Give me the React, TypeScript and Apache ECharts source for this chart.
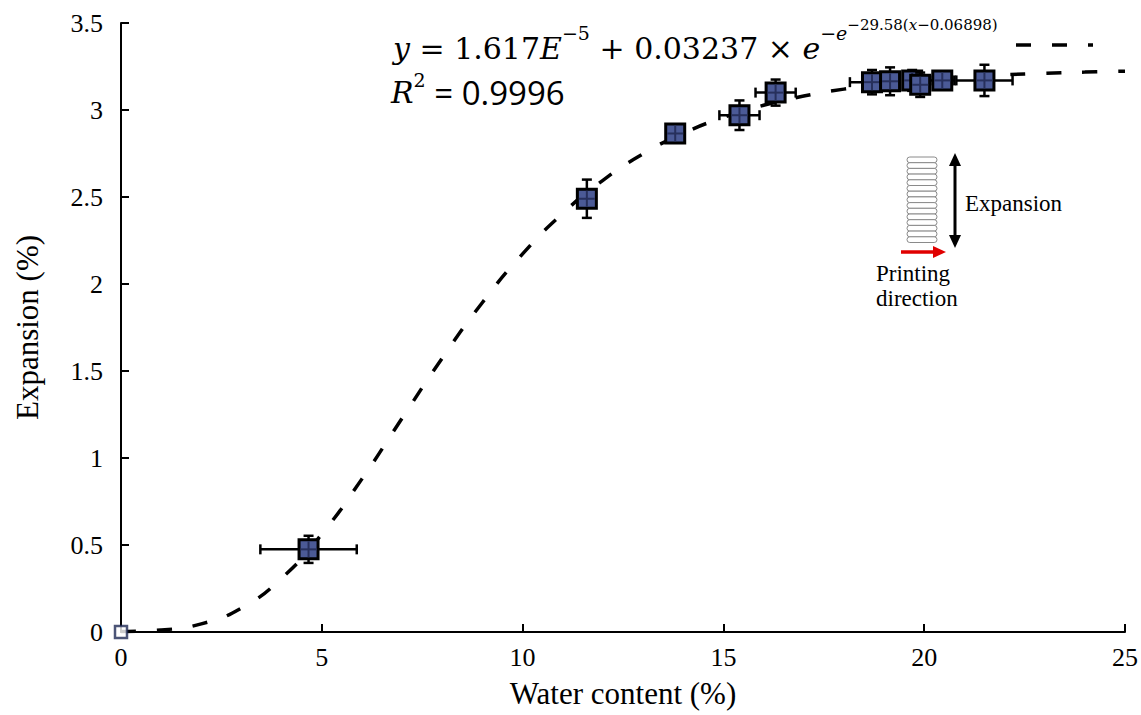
import React, { useEffect, useRef } from "react";
import * as echarts from "echarts";

// Measured points: water content (%), expansion (%), and their error half-widths
const waterContent = [4.67, 11.6, 13.8, 15.4, 16.3, 18.7, 19.15, 19.7, 19.9, 20.45, 21.5];
const expansion = [0.475, 2.49, 2.865, 2.97, 3.1, 3.16, 3.165, 3.17, 3.145, 3.17, 3.17];
const waterError = [1.2, 0.15, 0.05, 0.5, 0.5, 0.55, 0.2, 0.2, 0.2, 0.3, 0.7];
const expansionError = [0.078, 0.11, 0.02, 0.085, 0.075, 0.07, 0.08, 0.06, 0.07, 0.05, 0.09];

// Origin (hollow) point
const originPoint = [0, 0];

// Fitted curve
const fitX = [0, 1, 2, 3, 4, 5, 6, 7, 8, 9, 10, 11, 12, 13, 14, 15, 16, 17, 18, 19, 20, 21, 22, 23, 24, 25];
const fitY = [0.003, 0.012, 0.047, 0.138, 0.309, 0.563, 0.88, 1.229, 1.575, 1.894, 2.173, 2.406, 2.596, 2.748, 2.866, 2.957, 3.027, 3.08, 3.12, 3.15, 3.172, 3.189, 3.202, 3.211, 3.218, 3.223];

const xLabel = "Water content (%)";
const yLabel = "Expansion (%)";

const SERIF = "Liberation Serif";
const MATH = "DejaVu Serif";
const SANS = "Open Sans";

type Piece = { t: string; it?: boolean; sz: number; lvl: number; fam?: string };

const eqLine1: Piece[] = [
  { t: "y", it: true, sz: 30, lvl: 0 },
  { t: " = 1.617", sz: 30, lvl: 0 },
  { t: "E", it: true, sz: 30, lvl: 0 },
  { t: "−5", sz: 19, lvl: 1 },
  { t: " + 0.03237 × ", sz: 30, lvl: 0 },
  { t: "e", it: true, sz: 30, lvl: 0 },
  { t: "−", sz: 19, lvl: 1 },
  { t: "e", it: true, sz: 19, lvl: 1 },
  { t: "−29.58(", sz: 15, lvl: 2 },
  { t: "x", it: true, sz: 15, lvl: 2 },
  { t: "−0.06898)", sz: 15, lvl: 2 },
];
const eqLine2: Piece[] = [
  { t: "R", it: true, sz: 30, lvl: 0 },
  { t: "2", sz: 19, lvl: 1 },
  { t: " = 0.9996", sz: 33, lvl: 0, fam: SANS },
];

function measure(p: Piece): number {
  const c = document.createElement("canvas").getContext("2d")!;
  c.font = `${p.it ? "italic " : ""}${p.sz}px "${p.fam || MATH}"`;
  return c.measureText(p.t).width;
}

function layoutLine(pieces: Piece[], x0: number, centers: number[]): any[] {
  let x = x0;
  const out: any[] = [];
  for (const p of pieces) {
    out.push({
      type: "text",
      x,
      y: centers[p.lvl],
      z: 10,
      style: {
        text: p.t,
        fontFamily: p.fam || MATH,
        fontStyle: p.it ? "italic" : "normal",
        fontSize: p.sz,
        fill: "#000",
        align: "left",
        verticalAlign: "middle",
      },
    });
    x += measure(p);
  }
  return out;
}

export default function App() {
  const ref = useRef<HTMLDivElement>(null);

  useEffect(() => {
    const chart = echarts.init(ref.current!, null, { renderer: "svg" });

    const coils: any[] = [];
    const coilCount = 15;
    const coilTop = 157;
    const coilH = 5.7;
    for (let i = 0; i < coilCount; i++) {
      coils.push({
        type: "rect",
        shape: { x: 907, y: coilTop + i * coilH, width: 30, height: coilH, r: 2.8 },
        style: { fill: "#fff", stroke: "#8a8a8a", lineWidth: 1 },
      });
    }

    const option: any = {
      animation: false,
      backgroundColor: "#fff",
      textStyle: { fontFamily: SERIF },
      grid: { left: 121, right: 15, top: 23, bottom: 83, containLabel: false },
      xAxis: {
        type: "value",
        min: 0,
        max: 25,
        interval: 5,
        name: xLabel,
        nameLocation: "middle",
        nameGap: 46,
        nameTextStyle: { fontFamily: SERIF, fontSize: 31, color: "#000" },
        axisLine: { show: true, onZero: false, lineStyle: { color: "#000", width: 2 } },
        axisTick: { show: true, inside: true, length: 8, lineStyle: { color: "#000", width: 2 } },
        splitLine: { show: false },
        axisLabel: { fontFamily: SERIF, fontSize: 26, color: "#000", margin: 12 },
      },
      yAxis: {
        type: "value",
        min: 0,
        max: 3.5,
        interval: 0.5,
        name: yLabel,
        nameLocation: "middle",
        nameGap: 78,
        nameTextStyle: { fontFamily: SERIF, fontSize: 31, color: "#000" },
        axisLine: { show: true, onZero: false, lineStyle: { color: "#000", width: 2 } },
        axisTick: { show: true, inside: true, length: 8, lineStyle: { color: "#000", width: 2 } },
        splitLine: { show: false },
        axisLabel: { fontFamily: SERIF, fontSize: 26, color: "#000", margin: 18 },
      },
      series: [
        {
          type: "line",
          data: fitX.map((x, i) => [x, fitY[i]]),
          smooth: true,
          showSymbol: false,
          symbol: "none",
          lineStyle: { color: "#000", width: 3.5, type: [15, 21] },
          z: 2,
          silent: true,
        },
        {
          type: "custom",
          z: 5,
          data: waterContent.map((x, i) => [x, expansion[i], waterError[i], expansionError[i]]),
          encode: { x: 0, y: 1 },
          renderItem: (params: any, api: any) => {
            const x = api.value(0);
            const y = api.value(1);
            const xe = api.value(2);
            const ye = api.value(3);
            const c = api.coord([x, y]);
            const l = api.coord([x - xe, y]);
            const r = api.coord([x + xe, y]);
            const t = api.coord([x, y + ye]);
            const b = api.coord([x, y - ye]);
            const cap = 5;
            const s = 9.5;
            const ls = { stroke: "#000", lineWidth: 2.5 };
            return {
              type: "group",
              children: [
                { type: "line", shape: { x1: l[0], y1: c[1], x2: r[0], y2: c[1] }, style: ls },
                { type: "line", shape: { x1: l[0], y1: c[1] - cap, x2: l[0], y2: c[1] + cap }, style: ls },
                { type: "line", shape: { x1: r[0], y1: c[1] - cap, x2: r[0], y2: c[1] + cap }, style: ls },
                { type: "line", shape: { x1: c[0], y1: t[1], x2: c[0], y2: b[1] }, style: ls },
                { type: "line", shape: { x1: c[0] - cap, y1: t[1], x2: c[0] + cap, y2: t[1] }, style: ls },
                { type: "line", shape: { x1: c[0] - cap, y1: b[1], x2: c[0] + cap, y2: b[1] }, style: ls },
                {
                  type: "rect",
                  shape: { x: c[0] - s, y: c[1] - s, width: 2 * s, height: 2 * s },
                  style: { fill: "#4b5a96", stroke: "#000", lineWidth: 3 },
                },
                { type: "line", shape: { x1: c[0], y1: c[1] - s + 1.5, x2: c[0], y2: c[1] + s - 1.5 }, style: { stroke: "#27305c", lineWidth: 2 } },
                { type: "line", shape: { x1: c[0] - s + 1.5, y1: c[1], x2: c[0] + s - 1.5, y2: c[1] }, style: { stroke: "#27305c", lineWidth: 2 } },
              ],
            };
          },
        },
        {
          type: "scatter",
          data: [originPoint],
          symbol: "rect",
          symbolSize: 12,
          itemStyle: { color: "#fff", borderColor: "#1f2a55", borderWidth: 2.5 },
          z: 6,
        },
      ],
      graphic: [
        ...layoutLine(eqLine1, 393, [48, 33, 25]),
        ...layoutLine(eqLine2, 391, [92, 80, 92]),
        {
          type: "line",
          z: 10,
          shape: { x1: 1016, y1: 45, x2: 1093, y2: 45 },
          style: { stroke: "#000", lineWidth: 3.5, lineDash: [15, 21] },
        },
        ...coils,
        {
          type: "line",
          shape: { x1: 955, y1: 162, x2: 955, y2: 240 },
          style: { stroke: "#000", lineWidth: 3 },
        },
        {
          type: "polygon",
          shape: { points: [[955, 153], [949, 166], [961, 166]] },
          style: { fill: "#000" },
        },
        {
          type: "polygon",
          shape: { points: [[955, 248], [949, 235], [961, 235]] },
          style: { fill: "#000" },
        },
        {
          type: "text",
          left: 965,
          top: 192,
          style: { text: "Expansion", fontFamily: SERIF, fontSize: 23, fill: "#000" },
        },
        {
          type: "line",
          shape: { x1: 901, y1: 252, x2: 934, y2: 252 },
          style: { stroke: "#e00000", lineWidth: 3.5 },
        },
        {
          type: "polygon",
          shape: { points: [[946, 252], [933, 246], [933, 258]] },
          style: { fill: "#e00000" },
        },
        {
          type: "text",
          left: 876,
          top: 262,
          style: { text: "Printing", fontFamily: SERIF, fontSize: 23, fill: "#000" },
        },
        {
          type: "text",
          left: 876,
          top: 287,
          style: { text: "direction", fontFamily: SERIF, fontSize: 23, fill: "#000" },
        },
      ],
    };

    chart.setOption(option);
    return () => chart.dispose();
  }, []);

  return (
    <div
      ref={ref}
      style={{ position: "fixed", left: 0, top: 0, width: 1141, height: 715, background: "#fff" }}
    />
  );
}
